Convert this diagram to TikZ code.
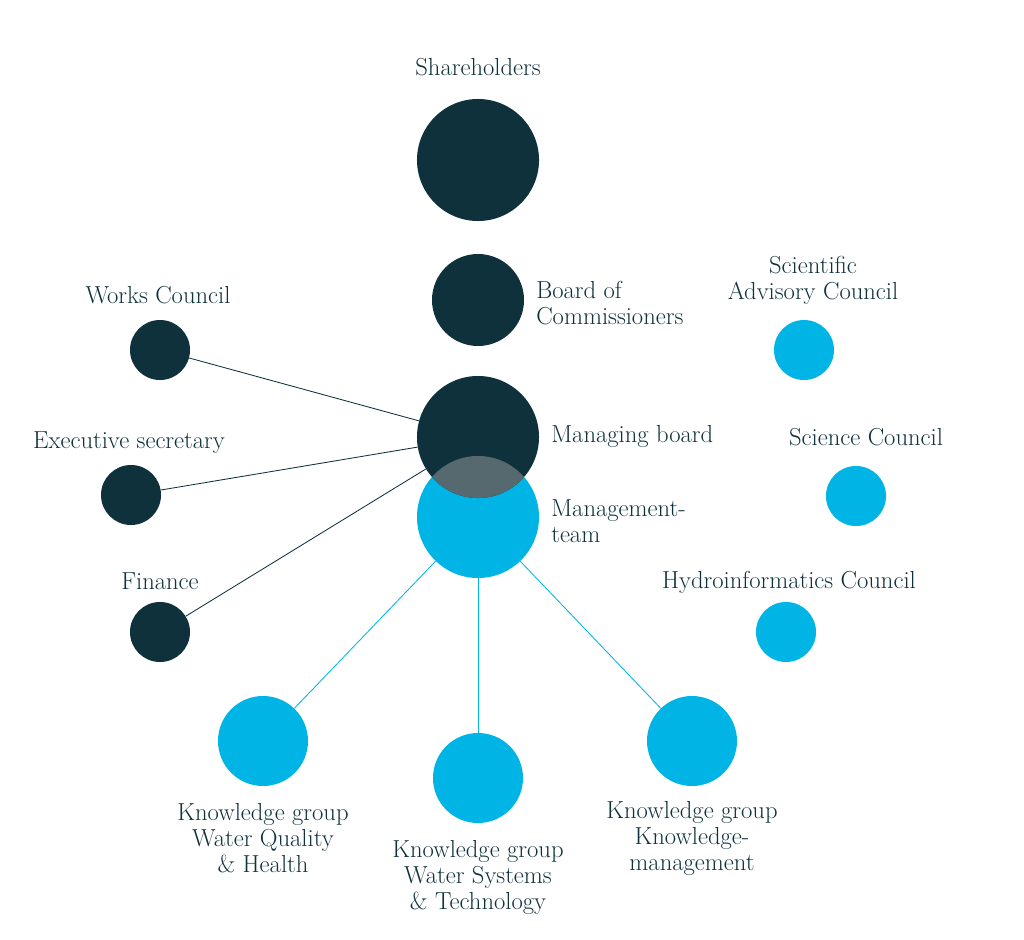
\documentclass[tikz,border=0pt]{standalone}
\usepackage{tikz}

\definecolor{deep}{HTML}{0E313B}
\definecolor{sky}{HTML}{00B5E6}
\definecolor{mist}{HTML}{56696F}

\begin{document}
\begin{tikzpicture}[x=0.025cm,y=-0.025cm,
  big/.style={shape=circle,minimum size=3.05cm,inner sep=0pt},
  mid/.style={shape=circle,minimum size=2.3cm,inner sep=0pt},
  grp/.style={shape=circle,minimum size=2.25cm,inner sep=0pt,fill=sky},
  small/.style={shape=circle,minimum size=1.5cm,inner sep=0pt},
  txt/.style={text=deep,font=\fontsize{17.5}{18.5}\selectfont,align=center,inner sep=0pt},
  dline/.style={draw=deep,line width=0.6pt},
  sline/.style={draw=sky,line width=0.6pt}]

\useasboundingbox (0,0) rectangle (1024,939);

% top of the tree
\node[big,fill=deep] (share) at (478,160) {};
\node[mid,fill=deep] (board) at (478,300) {};
\node[big,fill=sky] (mteam) at (478,517) {};
\node[big,fill=deep] (mboard) at (478,437) {};
\begin{scope}
\clip (mteam.center) circle (1.525cm);
\fill[mist] (mboard.center) circle (1.525cm);
\end{scope}

% staff on the left
\node[small,fill=deep] (works) at (160,350) {};
\node[small,fill=deep] (secr) at (131,495) {};
\node[small,fill=deep] (fin) at (160,632) {};

% councils on the right
\node[small,fill=sky] (sac) at (804,350) {};
\node[small,fill=sky] (sci) at (856,496) {};
\node[small,fill=sky] (hydro) at (786,632) {};

% knowledge groups
\node[grp] (kgq) at (263,741) {};
\node[grp] (kgs) at (478,778) {};
\node[grp] (kgk) at (692,741) {};

\path[dline] (works) edge (mboard);
\path[dline] (secr) edge (mboard);
\path[dline] (fin) edge (mboard);
\path[sline] (mteam) edge (kgq);
\path[sline] (mteam) edge (kgs);
\path[sline] (mteam) edge (kgk);

% labels
\node[txt] (tshare) at (478,67) {Shareholders};
\node[txt,anchor=west,align=left] (tboard) at (536,303) {Board of\\Commissioners};
\node[txt,anchor=west] (tmboard) at (551,436) {Managing board};
\node[txt,anchor=west,align=left] (tmteam) at (551,521) {Management-\\team};
\node[txt] (tworks) at (158,295) {Works Council};
\node[txt] (tsecr) at (129,443) {Executive secretary};
\node[txt] (tfin) at (160,581) {Finance};
\node[txt] (tsac) at (813,280) {Scientific\\Advisory Council};
\node[txt] (tsci) at (866,437) {Science Council};
\node[txt] (thydro) at (789,582) {Hydroinformatics Council};
\node[txt] (tkgq) at (263,838) {Knowledge group\\Water Quality\\\& Health};
\node[txt] (tkgs) at (478,877) {Knowledge group\\Water Systems\\\& Technology};
\node[txt] (tkgk) at (692,838) {Knowledge group\\Knowledge-\\management};

\end{tikzpicture}
\end{document}
